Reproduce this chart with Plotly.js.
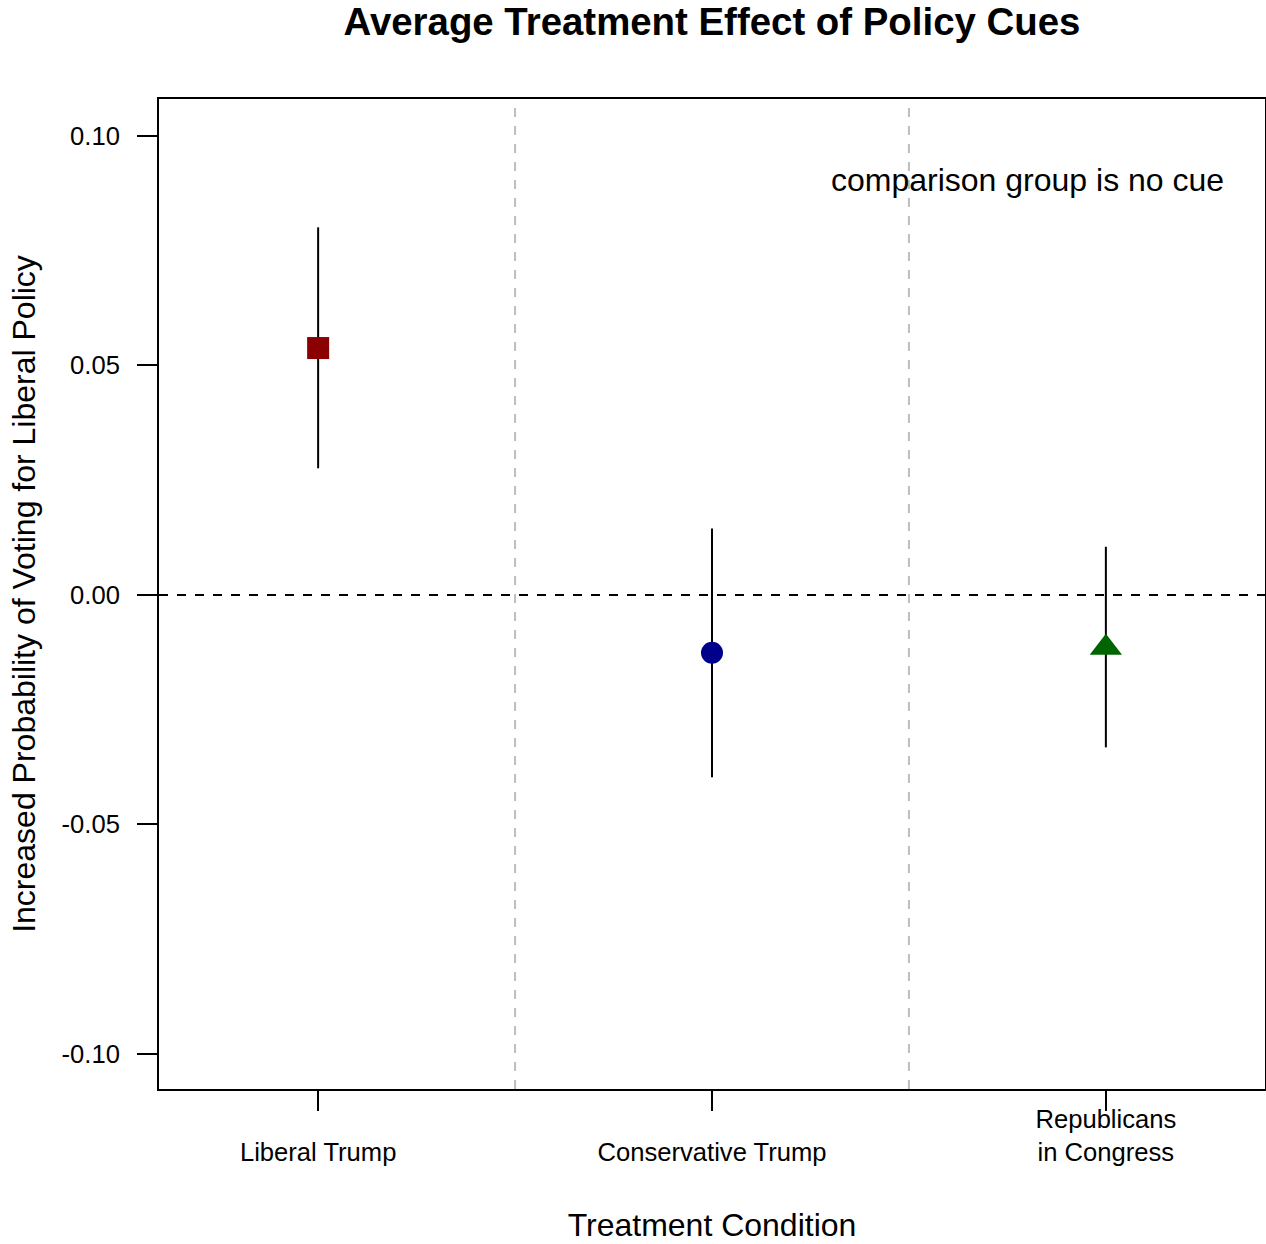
<!DOCTYPE html>
<html>
<head>
<meta charset="utf-8">
<script src="https://cdn.plot.ly/plotly-3.0.1.min.js"></script>
<style>html,body{margin:0;padding:0;background:#fff;}</style>
</head>
<body>
<div id="chart" style="width:1266px;height:1244px;"></div>
<script>
// ---- data ----
const categories = ["Liberal Trump", "Conservative Trump", "Republicans in Congress"];
const categoryLabels = [" <br>Liberal Trump", " <br>Conservative Trump", "Republicans<br>in Congress"];
const positions = [1, 2, 3];
const estimates = [0.0538, -0.0126, -0.0115];
const lower = [0.0276, -0.0397, -0.0332];
const upper = [0.0801, 0.0145, 0.0105];
const markerSymbols = ["square", "circle", "triangle-up"];
const markerColors = ["#8B0000", "#00008B", "#006400"];
const yTickVals = [0.10, 0.05, 0.00, -0.05, -0.10];
const yTickText = ["0.10", "0.05", "0.00", "-0.05", "-0.10"];
const dividers = [1.5, 2.5];
const referenceY = [0];

const FONT = "Liberation Sans, Arial, Helvetica, sans-serif";

const traces = categories.map((c, i) => ({
  type: "scatter",
  mode: "markers",
  name: c,
  x: [positions[i]],
  y: [estimates[i]],
  error_y: {
    type: "data",
    symmetric: false,
    array: [upper[i] - estimates[i]],
    arrayminus: [estimates[i] - lower[i]],
    color: "#000000",
    thickness: 2,
    width: 0
  },
  marker: {
    symbol: markerSymbols[i],
    color: markerColors[i],
    size: markerSymbols[i] === "triangle-up" ? 28 : 22,
    line: {width: 0}
  },
  hoverinfo: "x+y"
}));

const shapes = [];
dividers.forEach(d => shapes.push({
  type: "line", xref: "x", yref: "paper", x0: d, x1: d, y0: 0, y1: 1,
  line: {color: "#BEBEBE", width: 2, dash: "dash"}, layer: "below"
}));
referenceY.forEach(r => shapes.push({
  type: "line", xref: "paper", yref: "y", x0: 0, x1: 1, y0: r, y1: r,
  line: {color: "#000000", width: 2, dash: "dash"}, layer: "below"
}));

const layout = {
  width: 1266,
  height: 1244,
  paper_bgcolor: "#ffffff",
  plot_bgcolor: "#ffffff",
  showlegend: false,
  margin: {l: 159, r: 1, t: 99, b: 155, pad: 0},
  font: {family: FONT, color: "#000000"},
  title: {
    text: "<b>Average Treatment Effect of Policy Cues</b>",
    font: {family: FONT, size: 38.4, color: "#000000"},
    xref: "paper", x: 0.5, xanchor: "center",
    yref: "container", y: 1 - 22 / 1244, yanchor: "middle"
  },
  xaxis: {
    range: [0.596, 3.404],
    tickmode: "array",
    tickvals: positions,
    ticktext: categoryLabels,
    ticks: "outside",
    ticklen: 20,
    tickwidth: 2,
    tickcolor: "#000000",
    ticklabelstandoff: -14,
    tickfont: {family: FONT, size: 25.6, color: "#000000"},
    showgrid: false,
    zeroline: false,
    showline: true,
    linecolor: "#000000",
    linewidth: 2,
    mirror: true,
    title: {text: "Treatment Condition", font: {family: FONT, size: 32, color: "#000000"}, standoff: 49},
    automargin: false
  },
  yaxis: {
    range: [-0.10763, 0.10806],
    tickmode: "array",
    tickvals: yTickVals,
    ticktext: yTickText,
    ticks: "outside",
    ticklen: 20,
    tickwidth: 2,
    tickcolor: "#000000",
    ticklabelstandoff: 12,
    tickfont: {family: FONT, size: 25.6, color: "#000000"},
    showgrid: false,
    zeroline: false,
    showline: true,
    linecolor: "#000000",
    linewidth: 2,
    mirror: true,
    title: {text: "Increased Probability of Voting for Liberal Policy", font: {family: FONT, size: 32, color: "#000000"}, standoff: 16},
    automargin: false
  },
  shapes: shapes,
  annotations: [{
    text: "comparison group is no cue",
    xref: "x", yref: "y", x: 2.8, y: 0.0904,
    xanchor: "center", yanchor: "middle",
    showarrow: false,
    font: {family: FONT, size: 32, color: "#000000"}
  }]
};

Plotly.newPlot("chart", traces, layout, {displayModeBar: false, staticPlot: true});
</script>
</body>
</html>
